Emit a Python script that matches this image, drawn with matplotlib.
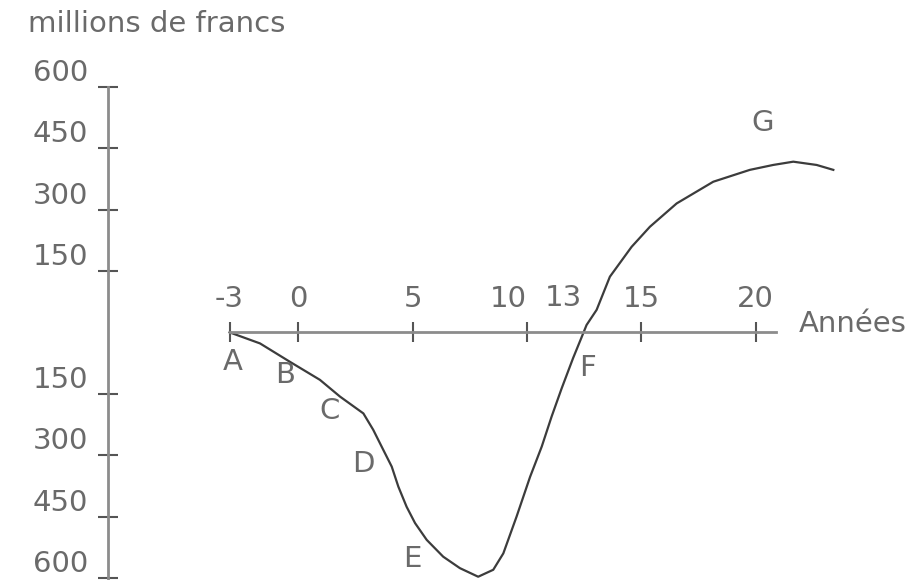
import numpy as np
import matplotlib.pyplot as plt

# cumulative cash flow (millions de francs) against years
years = [-3.0, -1.67, -0.36, 0.95, 1.83, 2.85, 3.28, 3.72, 4.09, 4.38, 4.74, 5.11, 5.62,
         6.34, 7.07, 7.87, 8.53, 8.97, 9.55, 10.14, 10.65, 11.08, 11.52, 12.02, 12.40,
         12.61, 13.05, 13.63, 14.58, 15.38, 16.55, 18.15, 19.75, 20.77, 21.65, 22.67, 23.40]
cash = [0, -27, -72, -116, -157, -198, -238, -287, -328, -377, -426, -466, -507,
        -548, -576, -597, -580, -540, -450, -353, -279, -206, -137, -63, -11,
        18, 55, 136, 209, 258, 315, 368, 397, 409, 417, 409, 397]

point_names = ['A', 'B', 'C', 'D', 'E', 'F', 'G']
point_x = [-2.85, -0.58, 1.39, 2.83, 4.97, 12.67, 20.32]
point_y = [-72, -103, -193, -322, -554, -86, 512]

year_ticks = [-3, 0, 5, 10, 15, 20]
year_labels = ['-3', '0', '5', '10', '15', '20']
money_ticks = [-600, -450, -300, -150, 150, 300, 450, 600]
money_labels = ['600', '450', '300', '150', '150', '300', '450', '600']

text_color = '#6a6a6a'
axis_color = '#8c8c8c'
fsize = 21

################################################################################

fig = plt.figure(figsize=(9.09, 5.8), dpi=100)
ax = fig.add_axes([0, 0, 1, 1])
ax.set_xlim(-13.04, 26.71)
ax.set_ylim(-605, 812)

ax.plot(years, cash, color='#3c3c3c', lw=1.6)

for name, px, py in zip(point_names, point_x, point_y):
    ax.text(px, py, name, ha='center', va='center', fontsize=fsize, color=text_color)

# horizontal axis at zero, vertical axis on the left
ax.spines['bottom'].set_visible(False)
ax.spines['right'].set_visible(False)
ax.spines['top'].set_position(('data', 0))
ax.spines['top'].set_bounds(-3, 20.9)
ax.spines['left'].set_position(('data', -8.3))
ax.spines['left'].set_bounds(-605, 600)
for s in ['top', 'left']:
    ax.spines[s].set_color(axis_color)
    ax.spines[s].set_linewidth(2)

ax.xaxis.set_ticks_position('top')
ax.set_xticks(year_ticks, labels=year_labels)
ax.yaxis.set_ticks_position('left')
ax.set_yticks(money_ticks, labels=money_labels)
ax.tick_params(direction='inout', length=15, width=1.5, color='#555555',
               labelsize=fsize, labelcolor=text_color)
ax.tick_params(axis='x', pad=6.5)
ax.tick_params(axis='y', pad=7)
for t in ax.get_yticklabels():
    t.set_va('bottom')
# "10" sits left of its tick to leave room for "13"
ax.get_xticklabels()[3].set_ha('right')

ax.text(11.58, 49, '13', ha='center', va='bottom', fontsize=fsize, color=text_color)
ax.text(21.9, 20, 'Années', ha='left', va='center', fontsize=fsize, color=text_color)
fig.text(28 / 909, 1 - 24 / 580, 'millions de francs', ha='left', va='center',
         fontsize=fsize, color=text_color)

fig.savefig('out.png', dpi=100)
